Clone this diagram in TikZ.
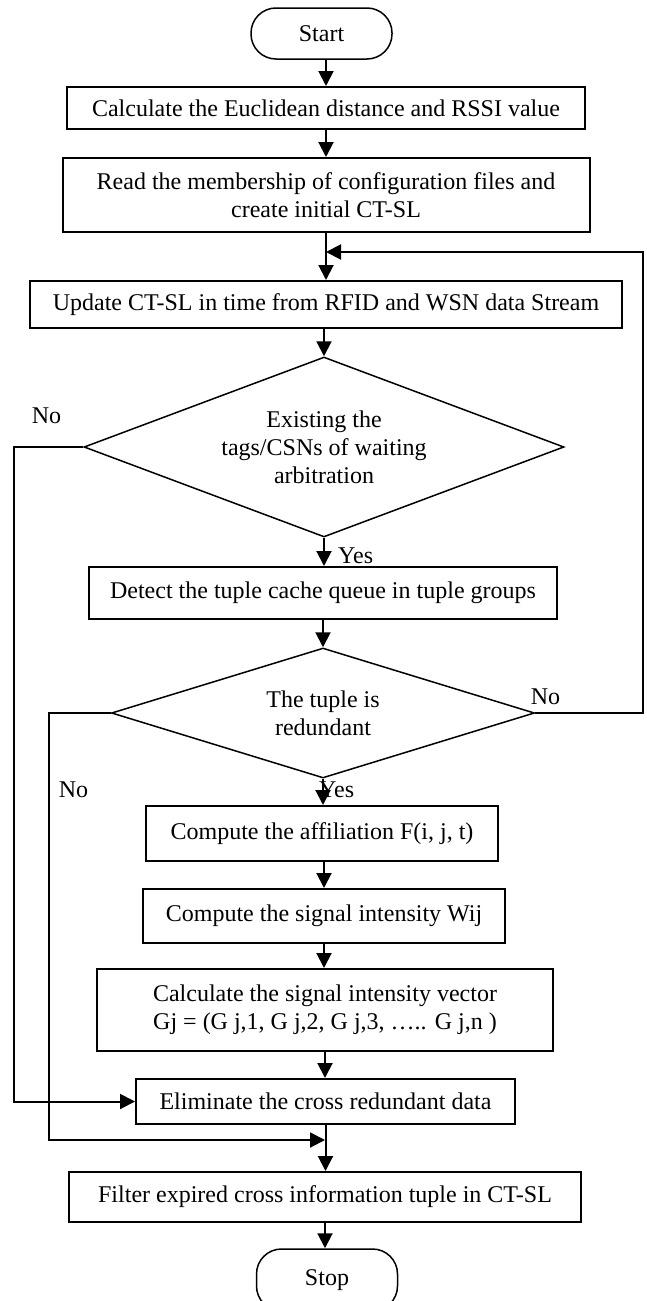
\documentclass[tikz,border=0pt]{standalone}
\usepackage{fontspec}
\setmainfont{Liberation Serif}
\usetikzlibrary{shapes.geometric,arrows.meta}
\begin{document}
\begin{tikzpicture}[x=1pt,y=-1pt,
  every node/.style={font=\fontsize{24}{28}\selectfont},
  box/.style={draw, line width=2pt, rectangle, inner sep=0pt, align=center},
  term/.style={draw, line width=1.5pt, rectangle, rounded corners=25pt, inner sep=0pt, minimum width=141pt, minimum height=51pt},
  dec/.style={draw, line width=1.5pt, diamond, inner sep=0pt, align=center},
  arr/.style={line width=2pt, -{Triangle[length=15pt,width=15pt]}},
  lbl/.style={inner sep=0pt}
]
\clip (0,0) rectangle (646,1301);
\node[term] (start) at (321.5,33.5) {Start};
\node[box, minimum width=518pt, minimum height=42pt] (b1) at (326,108) {Calculate the Euclidean distance and RSSI value};
\node[box, minimum width=527pt, minimum height=74pt] (b2) at (326,195) {Read the membership of configuration files and\\create initial CT-SL};
\node[box, minimum width=592pt, minimum height=47pt] (b3) at (326,304.5) {Update CT-SL in time from RFID and WSN data Stream};
\node[dec, aspect=2.667, minimum width=480pt, minimum height=180pt] (d1) at (324,447) {Existing the\\tags/CSNs of waiting\\arbitration};
\node[box, minimum width=468pt, minimum height=52pt] (b4) at (323,593) {Detect the tuple cache queue in tuple groups};
\node[dec, aspect=3.25, minimum width=423pt, minimum height=130pt] (d2) at (323,713) {The tuple is\\redundant};
\node[box, minimum width=352pt, minimum height=55pt] (b5) at (322,833.5) {Compute the affiliation F(i, j, t)};
\node[box, minimum width=362pt, minimum height=54pt] (b6) at (324,916) {Compute the signal intensity Wij};
\node[box, minimum width=456pt, minimum height=82pt] (b7) at (325,1010) {Calculate the signal intensity vector\\Gj = (G j,1, G j,2, G j,3, ….. G j,n )};
\node[box, minimum width=379pt, minimum height=45pt] (b8) at (325.5,1101.5) {Eliminate the cross redundant data};
\node[box, minimum width=512pt, minimum height=50pt] (b9) at (325,1197) {Filter expired cross information tuple in CT-SL};
\node[term, minimum height=62pt] (stop) at (327,1280) {Stop};

\node[lbl] (no1) at (46.5,416) {No};
\node[lbl, anchor=west] (yes1) at (338,556) {Yes};
\node[lbl] (no2) at (545.5,697) {No};
\node[lbl] (no3) at (73.5,790) {No};
\node[lbl, anchor=west] (yes2) at (319,790) {Yes};

\coordinate (j1) at (326,252);
\coordinate (j2) at (325,1140);
\coordinate (l1) at (14,447);
\coordinate (l2) at (49,713);
\coordinate (r1) at (643,713);

\draw[arr] (b1.north |- start.south) -- (b1.north);
\draw[arr] (b1.south) -- (b1.south |- b2.north);
\draw[arr] (b3.north |- b2.south) -- (b3.north);
\draw[arr] (d1.north |- b3.south) -- (d1.north);
\draw[arr] (d1.south) -- (d1.south |- b4.north);
\draw[arr] (d2.north |- b4.south) -- (d2.north);
\draw[arr] (d2.south) -- (d2.south |- b5.north);
\draw[arr] (b6.north |- b5.south) -- (b6.north);
\draw[arr] (b6.south) -- (b6.south |- b7.north);
\draw[arr] (b7.south) -- (b7.south |- b8.north);
\draw[arr] (b8.south) -- (b8.south |- b9.north);
\draw[arr] (b9.south) -- (b9.south |- stop.north);

\draw[arr] (d2.east) -- (r1) |- (j1);
\draw[arr] (d1.west) -- (l1) |- (b8.west);
\draw[arr] (d2.west) -- (l2) |- (j2);
\end{tikzpicture}
\end{document}
